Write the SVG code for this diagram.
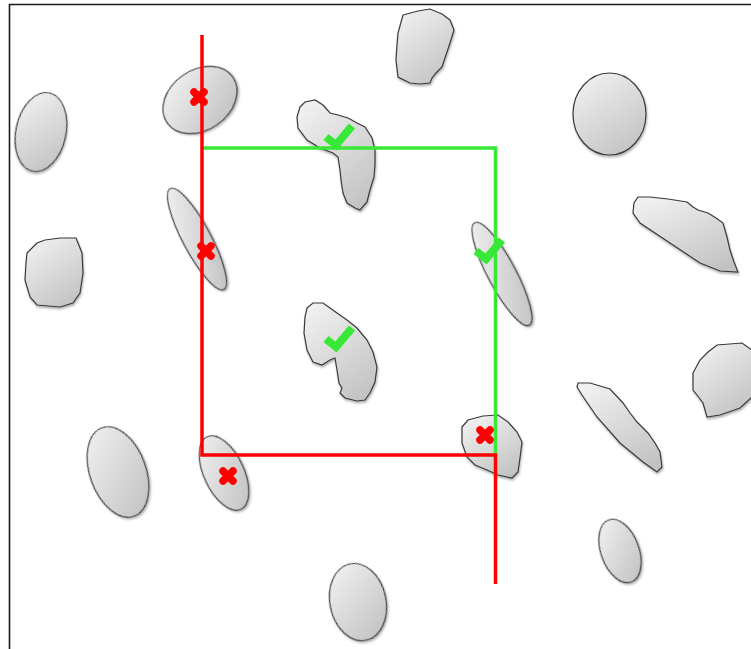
<svg xmlns="http://www.w3.org/2000/svg" width="751" height="649" viewBox="0 0 751 649">
<style>
.cell{fill:url(#g);stroke:#3a3a3a;stroke-width:1.2;filter:url(#sh)}
.red{stroke:#ff0000;stroke-width:3.5;fill:none}
.grn{stroke:#38e836;stroke-width:3.5;fill:none}
.x{stroke:#ff0000;stroke-width:7.5;stroke-linecap:round;fill:none}
.ck{stroke:#38e836;stroke-width:8;fill:none;stroke-linejoin:miter}
</style>
<defs>
<linearGradient id="g" x1="0.2" y1="0" x2="0.8" y2="1">
<stop offset="0" stop-color="#f0f0f0"/>
<stop offset="1" stop-color="#c2c2c2"/>
</linearGradient>
<filter id="sh" x="-20%" y="-20%" width="140%" height="140%">
<feDropShadow dx="0.8" dy="2" stdDeviation="1.3" flood-color="#000" flood-opacity="0.3"/>
</filter>
<path id="xm" d="M-5,-5L5,5M5,-5L-5,5"/>
<polyline id="cm" points="-12,1 -2,9 14,-10"/>
</defs>
<rect width="751" height="649" fill="#fff"/>
<path d="M9.5,649V4.5H751" fill="none" stroke="#1a1a1a" stroke-width="1.6"/>

<g id="cell1"><ellipse class="cell" cx="41" cy="132" rx="25" ry="40" transform="rotate(12 41 132)"/></g>
<g id="cell2"><ellipse class="cell" cx="200" cy="100" rx="40" ry="30" transform="rotate(-35 200 100)"/></g>
<g id="cell3"><path class="cell" d="M403,15L418,11L430,9L442,14L450,20L454,30L450,43L446,55L442,67L436,73L432,78L430,83L420,84L410,83L398,77L396,60L397,45L398,33Z"/></g>
<g id="cell4"><ellipse class="cell" cx="609.5" cy="114" rx="36.5" ry="41"/></g>
<g id="cell5"><path class="cell" d="M300,107L305,102L315,100L323,105L330,113L338,115L348,118L357,123L365,127L372,138L375,150L375,165L374,177L370,190L367,202L360,210L355,208L347,203L343,193L341,180L340,170L338,157L333,153L320,148L307,140L298,128L297,117Z"/></g>
<g id="cell6"><ellipse class="cell" cx="197" cy="239" rx="14" ry="57" transform="rotate(-28 197 239)"/></g>
<g id="cell7"><path class="cell" d="M27,253L37,243L45,240L60,238L76,238L78,243L82,253L83,273L80,293L73,303L60,307L37,305L30,297L25,280L26,263Z"/></g>
<g id="cell8"><ellipse class="cell" cx="502" cy="274" rx="14" ry="58" transform="rotate(-28 502 274)"/></g>
<g id="cell9"><path class="cell" d="M307,308L313,303L323,303L330,308L337,313L347,320L357,328L367,340L373,352L377,367L375,382L370,393L365,400L357,401L345,398L340,393L342,388L339,383L337,370L335,358L330,360L322,365L313,362L307,350L304,333L305,317Z"/></g>
<g id="cell10"><path class="cell" d="M638,197L650,197L668,199L687,202L693,207L698,210L708,213L716,218L723,223L725,230L727,237L730,250L734,262L738,272L720,271L700,263L685,253L670,243L655,233L640,223L633,213L634,203Z"/></g>
<g id="cell11"><path class="cell" d="M693,373L700,360L708,352L717,345L742,343L752,350L752,397L740,408L720,415L707,417L703,403L697,395L693,390Z"/></g>
<g id="cell12"><path class="cell" d="M578,383L590,383L610,389L623,403L630,413L637,422L648,433L655,443L660,452L662,467L657,472L643,462L620,443L597,417L582,395L577,387Z"/></g>
<g id="cell13"><path class="cell" d="M462,427L468,420L483,416L498,415L508,422L517,432L522,442L521,450L520,458L518,472L512,478L498,475L487,470L475,465L467,457L462,443Z"/></g>
<g id="cell14"><ellipse class="cell" cx="118" cy="472" rx="28" ry="47" transform="rotate(-20 118 472)"/></g>
<g id="cell15"><ellipse class="cell" cx="224" cy="473" rx="20" ry="40" transform="rotate(-25 224 473)"/></g>
<g id="cell16"><ellipse class="cell" cx="620" cy="551" rx="19" ry="33" transform="rotate(-20 620 551)"/></g>
<g id="cell17"><ellipse class="cell" cx="358" cy="602" rx="28" ry="39" transform="rotate(-12 358 602)"/></g>

<g id="connectors">
<path class="grn" d="M202,148H495.5V455"/>
<path class="red" d="M202,35V455H495.5V584"/>
</g>

<g id="marks">
<use href="#xm" class="x" x="199" y="97"/>
<use href="#xm" class="x" x="206" y="251"/>
<use href="#xm" class="x" x="485" y="435"/>
<use href="#xm" class="x" x="228" y="476"/>
<use href="#cm" class="ck" x="338" y="136"/>
<use href="#cm" class="ck" x="488" y="250"/>
<use href="#cm" class="ck" x="338" y="338"/>
</g>
</svg>
